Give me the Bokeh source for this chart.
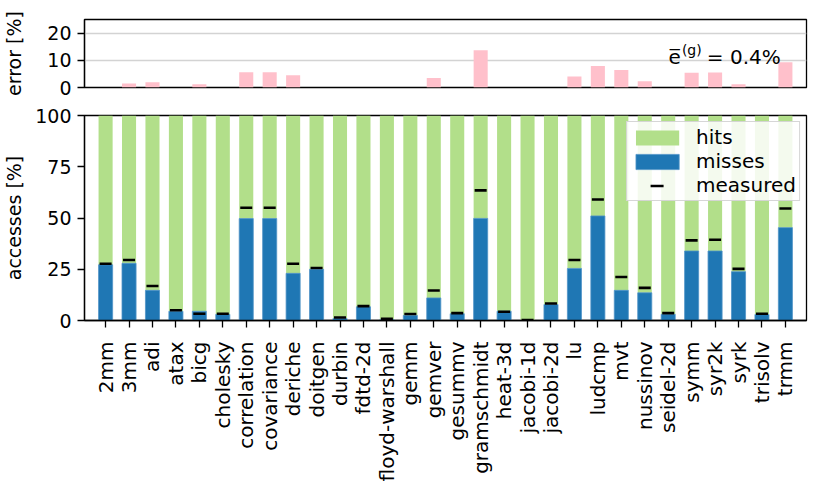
import math
from bokeh.plotting import figure
from bokeh.layouts import column
from bokeh.models import Range1d, FixedTicker, Legend, LegendItem, Label, ColumnDataSource
from bokeh.embed import file_html
from bokeh.resources import INLINE

benchmarks = ["2mm", "3mm", "adi", "atax", "bicg", "cholesky", "correlation", "covariance",
              "deriche", "doitgen", "durbin", "fdtd-2d", "floyd-warshall", "gemm", "gemver",
              "gesummv", "gramschmidt", "heat-3d", "jacobi-1d", "jacobi-2d", "lu", "ludcmp",
              "mvt", "nussinov", "seidel-2d", "symm", "syr2k", "syrk", "trisolv", "trmm"]
misses = [27.2, 27.9, 14.7, 4.5, 4.5, 3.0, 49.7, 49.7, 23.0, 25.0, 1.0, 6.7, 0.5, 2.5, 11.0,
          3.3, 49.8, 4.5, 0.0, 7.8, 25.4, 51.0, 14.7, 13.5, 3.0, 33.9, 33.9, 23.8, 2.9, 45.3]
measured = [27.7, 29.5, 16.8, 5.0, 3.3, 3.3, 55.0, 55.0, 27.7, 25.6, 1.5, 7.0, 0.8, 3.2, 14.6,
            3.6, 63.5, 4.3, 0.2, 8.3, 29.5, 59.0, 21.2, 15.9, 3.6, 39.1, 39.4, 25.2, 3.3, 54.6]
error = [0.0, 1.5, 1.9, 0.0, 1.2, 0.0, 5.6, 5.6, 4.5, 0.0, 0.0, 0.0, 0.0, 0.0, 3.5,
         0.0, 13.7, 0.0, 0.0, 0.0, 4.0, 7.9, 6.4, 2.3, 0.0, 5.4, 5.5, 1.2, 0.0, 9.3]
total = [100.0] * len(benchmarks)
mean_error_symbol = "e\u0305"
mean_error_sup = "(g)"
mean_error_value = "= 0.4%"

FONT = "DejaVu Sans"
GREEN = "#b2df8a"
BLUE = "#1f77b4"
PINK = "#ffc0cb"

xs = list(range(len(benchmarks)))
src = ColumnDataSource(dict(x=xs, misses=misses, measured=measured, error=error, total=total))
x_range = Range1d(-0.9, len(benchmarks) - 0.1)


def style_axes(p):
    p.outline_line_color = "black"
    p.outline_line_width = 1.3
    p.outline_line_alpha = 1.0
    for ax in p.yaxis:
        ax.axis_line_color = "black"
        ax.axis_line_width = 1.3
        ax.major_tick_line_width = 1.3
        ax.major_tick_out = 7
        ax.major_tick_in = 0
        ax.minor_tick_line_color = None
        ax.major_label_text_font = FONT
        ax.major_label_text_font_size = "19px"
        ax.major_label_text_color = "black"
        ax.major_label_standoff = 6
        ax.axis_label_text_font = FONT
        ax.axis_label_text_font_size = "19px"
        ax.axis_label_text_font_style = "normal"
        ax.axis_label_text_color = "black"


# ---- top panel: error ----
top = figure(width=823, height=97, x_range=x_range, y_range=Range1d(0, 25),
             output_backend="svg", toolbar_location=None, x_axis_location=None,
             min_border_left=79, min_border_right=17, min_border_top=19, min_border_bottom=10)
top.vbar(x="x", top="error", width=0.6, source=src, fill_color=PINK, line_color=None)
style_axes(top)
top.yaxis.ticker = FixedTicker(ticks=[0, 10, 20])
top.yaxis.axis_label = "error [%]"
top.yaxis.axis_label_standoff = 19
top.xgrid.visible = False
top.ygrid.ticker = FixedTicker(ticks=[10, 20])
top.ygrid.grid_line_color = "#d3d3d3"
top.ygrid.grid_line_width = 1.3
ann_x, ann_y = 28.8, 11.2
top.add_layout(Label(x=ann_x, y=ann_y, text=mean_error_value, text_align="right",
                     text_baseline="alphabetic", text_font=FONT, text_font_size="20px",
                     text_color="black"))
top.add_layout(Label(x=ann_x, y=ann_y, x_offset=-79, y_offset=7, text=mean_error_sup,
                     text_align="right", text_baseline="alphabetic", text_font=FONT,
                     text_font_size="14px", text_color="black"))
top.add_layout(Label(x=ann_x, y=ann_y, x_offset=-100, text=mean_error_symbol,
                     text_align="right", text_baseline="alphabetic", text_font=FONT,
                     text_font_size="20px", text_color="black"))

# ---- bottom panel: accesses ----
bot = figure(width=823, height=388, x_range=x_range, y_range=Range1d(0, 100),
             output_backend="svg", toolbar_location=None,
             min_border_left=79, min_border_right=17, min_border_top=18, min_border_bottom=165)
r_hits = bot.vbar(x="x", bottom="misses", top="total", width=0.6, source=src,
                  fill_color=GREEN, line_color=None)
r_miss = bot.vbar(x="x", bottom=0, top="misses", width=0.6, source=src,
                  fill_color=BLUE, line_color="#4f93c7", line_width=0.8)
r_meas = bot.scatter(x="x", y="measured", marker="dash", size=12, source=src,
                     line_color="black", line_width=2.6)
# legend proxy: hidden line whose dash pattern shows a short centred stroke
r_meas_leg = bot.line(x="x", y="measured", source=src, line_color="black", line_width=2.6,
                      line_dash="0 20 13 21", visible=False)
style_axes(bot)
bot.yaxis.ticker = FixedTicker(ticks=[0, 25, 50, 75, 100])
bot.yaxis.axis_label = "accesses [%]"
bot.yaxis.axis_label_standoff = 7
bot.xgrid.visible = False
bot.ygrid.visible = False
xa = bot.xaxis[0]
xa.ticker = FixedTicker(ticks=xs)
xa.major_label_overrides = {i: n for i, n in zip(xs, benchmarks)}
xa.major_label_orientation = math.pi / 2
xa.axis_line_color = "black"
xa.axis_line_width = 1.3
xa.major_tick_line_width = 1.3
xa.major_tick_out = 7
xa.major_tick_in = 0
xa.minor_tick_line_color = None
xa.major_label_text_font = FONT
xa.major_label_text_font_size = "20px"
xa.major_label_text_color = "black"
xa.major_label_standoff = 14

legend = Legend(items=[LegendItem(label="hits", renderers=[r_hits]),
                       LegendItem(label="misses", renderers=[r_miss]),
                       LegendItem(label="measured", renderers=[r_meas_leg])],
                location="top_right", margin=6, padding=3, spacing=0,
                glyph_width=54, glyph_height=19, label_standoff=12,
                label_text_font=FONT, label_text_font_size="20px", label_text_color="black",
                background_fill_color="white", background_fill_alpha=0.85,
                border_line_color="#cccccc", border_line_alpha=0.8)
bot.add_layout(legend, "center")

layout = column(top, bot)
open("out.html", "w").write(file_html(layout, INLINE))
